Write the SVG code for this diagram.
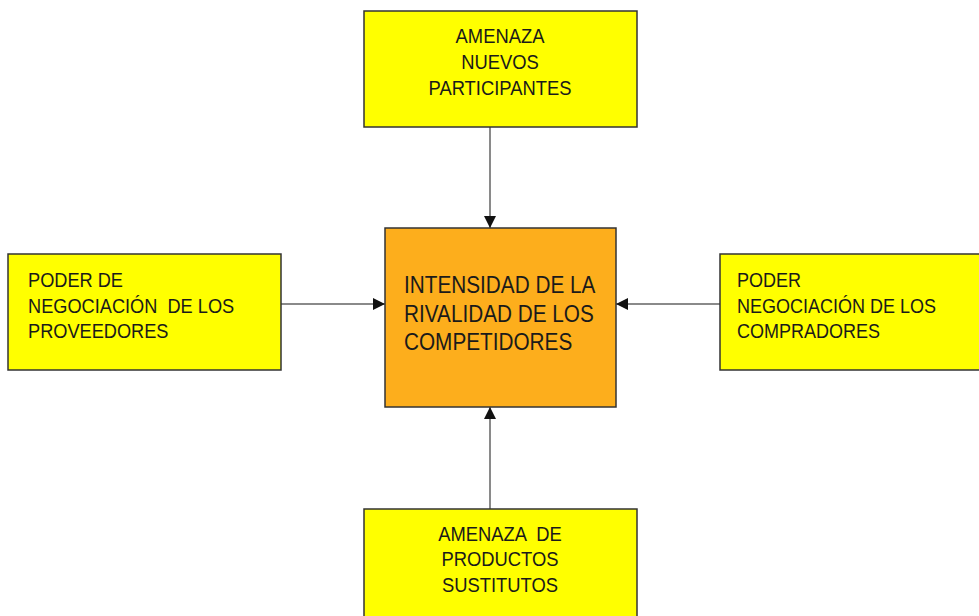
<svg xmlns="http://www.w3.org/2000/svg" width="979" height="616" viewBox="0 0 979 616">
<defs>
<style>
.box{fill:#FFFF00;stroke:#333;stroke-width:1.5}
.center{fill:#FDAE1C;stroke:#333;stroke-width:1.5}
.t{font-family:"Liberation Sans",Arial,sans-serif;font-size:20px;fill:#1a1a1a}
.tc{font-family:"Liberation Sans",Arial,sans-serif;font-size:24px;fill:#1a1a1a}
.conn{stroke:#8a8a8a;stroke-width:2;fill:none}
</style>
<marker id="ah" viewBox="0 0 10 10" refX="10" refY="5" markerWidth="12" markerHeight="12" markerUnits="userSpaceOnUse" orient="auto">
<path d="M0,0 L10,5 L0,10 z" fill="#111"/>
</marker>
</defs>
<rect width="979" height="616" fill="#fff"/>
<g id="connectors">
<line class="conn" x1="490" y1="127" x2="490" y2="228" marker-end="url(#ah)"/>
<line class="conn" x1="281" y1="304" x2="385" y2="304" marker-end="url(#ah)"/>
<line class="conn" x1="720" y1="304" x2="616" y2="304" marker-end="url(#ah)"/>
<line class="conn" x1="490" y1="509" x2="490" y2="407" marker-end="url(#ah)"/>
</g>
<g id="nuevos">
<rect class="box" x="364" y="11" width="273" height="116"/>
<g transform="translate(500,0) scale(0.92,1)">
<text class="t" text-anchor="middle" x="0" y="43">AMENAZA</text>
<text class="t" text-anchor="middle" x="0" y="69">NUEVOS</text>
<text class="t" text-anchor="middle" x="0" y="95.5">PARTICIPANTES</text>
</g>
</g>
<g id="proveedores">
<rect class="box" x="8" y="254" width="273" height="116"/>
<g transform="translate(28,0) scale(0.91,1)">
<text class="t" x="0" y="287" xml:space="preserve">PODER DE</text>
<text class="t" x="0" y="313" xml:space="preserve">NEGOCIACIÓN  DE LOS</text>
<text class="t" x="0" y="338" xml:space="preserve">PROVEEDORES</text>
</g>
</g>
<g id="compradores">
<rect class="box" x="720" y="254" width="275" height="116"/>
<g transform="translate(737,0) scale(0.9,1)">
<text class="t" x="0" y="287">PODER</text>
<text class="t" x="0" y="313">NEGOCIACIÓN DE LOS</text>
<text class="t" x="0" y="338">COMPRADORES</text>
</g>
</g>
<g id="rivalidad">
<rect class="center" x="385" y="228" width="231" height="179"/>
<g transform="translate(404,0) scale(0.865,1)">
<text class="tc" x="0" y="293">INTENSIDAD DE LA</text>
<text class="tc" x="0" y="322">RIVALIDAD DE LOS</text>
<text class="tc" x="0" y="350.5">COMPETIDORES</text>
</g>
</g>
<g id="sustitutos">
<rect class="box" x="364" y="509" width="273" height="120"/>
<g transform="translate(500,0) scale(0.92,1)">
<text class="t" text-anchor="middle" x="0" y="541" xml:space="preserve">AMENAZA  DE</text>
<text class="t" text-anchor="middle" x="0" y="566.5">PRODUCTOS</text>
<text class="t" text-anchor="middle" x="0" y="592">SUSTITUTOS</text>
</g>
</g>
</svg>
